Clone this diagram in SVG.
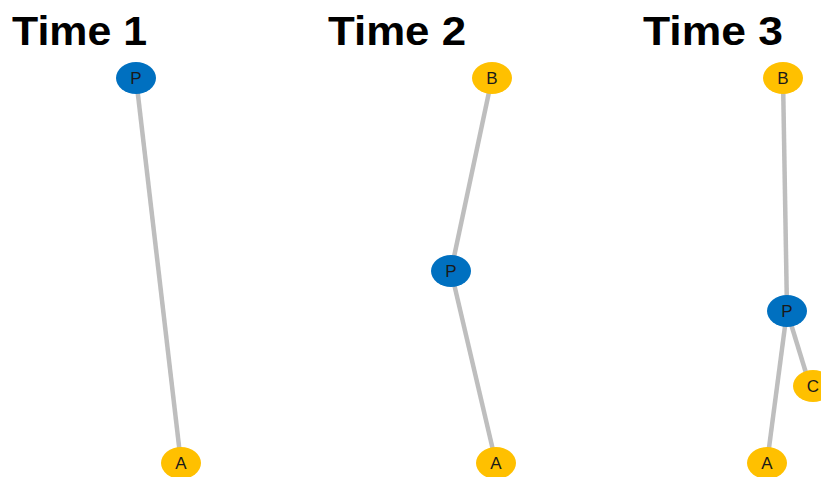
<svg xmlns="http://www.w3.org/2000/svg" width="821" height="477" viewBox="0 0 821 477">
<style>
.title{font-family:"Liberation Sans",Arial,sans-serif;font-weight:bold;font-size:40px;fill:#000}
.lbl{font-family:"Liberation Sans",Arial,sans-serif;font-size:17px;fill:#1a1a1a;text-anchor:middle;dominant-baseline:central}
.blue{fill:#0070C0}
.yel{fill:#FFC000}
.edge{stroke:#BEBEBE;stroke-width:4.5;fill:none}
</style>
<rect width="821" height="477" fill="#fff"/>
<text class="title" x="12" y="45" textLength="135" lengthAdjust="spacingAndGlyphs">Time 1</text>
<text class="title" x="328" y="45" textLength="138" lengthAdjust="spacingAndGlyphs">Time 2</text>
<text class="title" x="643" y="45" textLength="140" lengthAdjust="spacingAndGlyphs">Time 3</text>
<g id="connectors">
<line class="edge" x1="136" y1="78" x2="181" y2="463"/>
<line class="edge" x1="492" y1="78" x2="451" y2="271"/>
<line class="edge" x1="451" y1="271" x2="496" y2="463"/>
<line class="edge" x1="783" y1="78" x2="787" y2="311"/>
<line class="edge" x1="787" y1="311" x2="767" y2="463"/>
<line class="edge" x1="787" y1="311" x2="810" y2="386"/>
</g>
<g id="t1-P"><ellipse class="blue" cx="136" cy="78" rx="20" ry="16"/><text class="lbl" x="136" y="78">P</text></g>
<g id="t1-A"><ellipse class="yel" cx="181" cy="463" rx="20" ry="16"/><text class="lbl" x="181" y="463">A</text></g>
<g id="t2-B"><ellipse class="yel" cx="492" cy="78" rx="20" ry="16"/><text class="lbl" x="492" y="78">B</text></g>
<g id="t2-P"><ellipse class="blue" cx="451" cy="271" rx="20" ry="16"/><text class="lbl" x="451" y="271">P</text></g>
<g id="t2-A"><ellipse class="yel" cx="496" cy="463" rx="20" ry="16"/><text class="lbl" x="496" y="463">A</text></g>
<g id="t3-B"><ellipse class="yel" cx="783" cy="78" rx="20" ry="16"/><text class="lbl" x="783" y="78">B</text></g>
<g id="t3-P"><ellipse class="blue" cx="787" cy="311" rx="20" ry="16"/><text class="lbl" x="787" y="311">P</text></g>
<g id="t3-C"><ellipse class="yel" cx="813" cy="386" rx="20" ry="16"/><text class="lbl" x="813" y="386">C</text></g>
<g id="t3-A"><ellipse class="yel" cx="767" cy="463" rx="20" ry="16"/><text class="lbl" x="767" y="463">A</text></g>
</svg>
